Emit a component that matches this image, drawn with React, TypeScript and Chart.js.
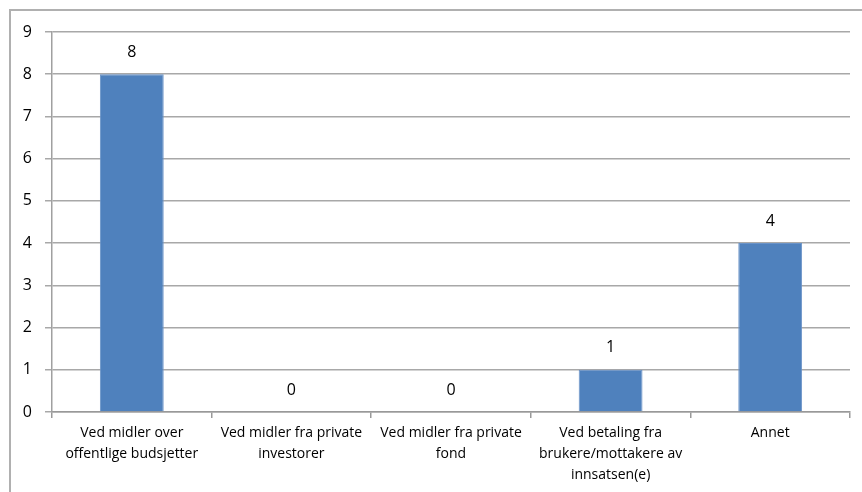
import React, { useEffect, useRef } from "react";
import { Chart, registerables } from "chart.js";

Chart.register(...registerables);

const categories: string[][] = [
  ["Ved midler over", "offentlige budsjetter"],
  ["Ved midler fra private", "investorer"],
  ["Ved midler fra private", "fond"],
  ["Ved betaling fra", "brukere/mottakere av", "innsatsen(e)"],
  ["Annet"],
];
const values: number[] = [8, 0, 0, 1, 4];
const yMin = 0;
const yMax = 9;
const yStep = 1;

const FONT = "'Open Sans', 'Liberation Sans', Arial, sans-serif";

const valueLabels = {
  id: "valueLabels",
  afterDatasetsDraw(chart: any) {
    const ctx = chart.ctx;
    const meta = chart.getDatasetMeta(0);
    ctx.save();
    ctx.font = `16px ${FONT}`;
    ctx.fillStyle = "#000";
    ctx.textAlign = "center";
    ctx.textBaseline = "middle";
    meta.data.forEach((bar: any, i: number) => {
      ctx.fillText(String(values[i]), bar.x, bar.y - 22);
    });
    ctx.restore();
  },
};

export default function App() {
  const ref = useRef<HTMLCanvasElement>(null);
  useEffect(() => {
    if (!ref.current) return;
    const chart = new Chart(ref.current, {
      type: "bar",
      data: {
        labels: categories,
        datasets: [
          {
            data: values,
            backgroundColor: "#4F81BD",
            borderColor: "#6a93c8",
            borderWidth: 1,
            categoryPercentage: 1,
            barPercentage: 0.4,
          },
        ],
      },
      options: {
        animation: false,
        responsive: false,
        maintainAspectRatio: false,
        layout: { padding: { left: 0, top: 32, right: 12, bottom: 0 } },
        plugins: { legend: { display: false }, tooltip: { enabled: false } },
        scales: {
          x: {
            grid: {
              drawOnChartArea: false,
              drawTicks: true,
              tickLength: 6,
              color: "#999999",
              lineWidth: 1.5,
              offset: true,
            },
            border: { display: true, color: "#999999", width: 1.5 },
            ticks: {
              color: "#000",
              font: { family: FONT, size: 14, lineHeight: 1.5 },
              padding: 5,
              maxRotation: 0,
              autoSkip: false,
            },
            afterFit: (s: any) => {
              s.height = 80;
            },
          },
          y: {
            min: yMin,
            max: yMax,
            ticks: {
              stepSize: yStep,
              color: "#000",
              font: { family: FONT, size: 16 },
              padding: 13,
            },
            grid: { color: "#a8a8a8", lineWidth: 1.5, tickLength: 7, drawTicks: true },
            border: { display: true, color: "#a0a0a0", width: 1.5 },
            afterFit: (s: any) => {
              s.width = 52;
            },
          },
        },
      },
      plugins: [valueLabels],
    });
    return () => chart.destroy();
  }, []);
  return (
    <div style={{ position: "fixed", left: 0, top: 0, width: 862, height: 492, background: "#fff", overflow: "hidden" }}>
      <div
        style={{
          position: "absolute",
          left: 9,
          top: 9,
          width: 900,
          height: 600,
          borderTop: "2px solid #b0b0b0",
          borderLeft: "2px solid #b0b0b0",
          boxSizing: "border-box",
        }}
      />
      <canvas ref={ref} width={862} height={492} style={{ position: "absolute", left: 0, top: 0 }} />
    </div>
  );
}
